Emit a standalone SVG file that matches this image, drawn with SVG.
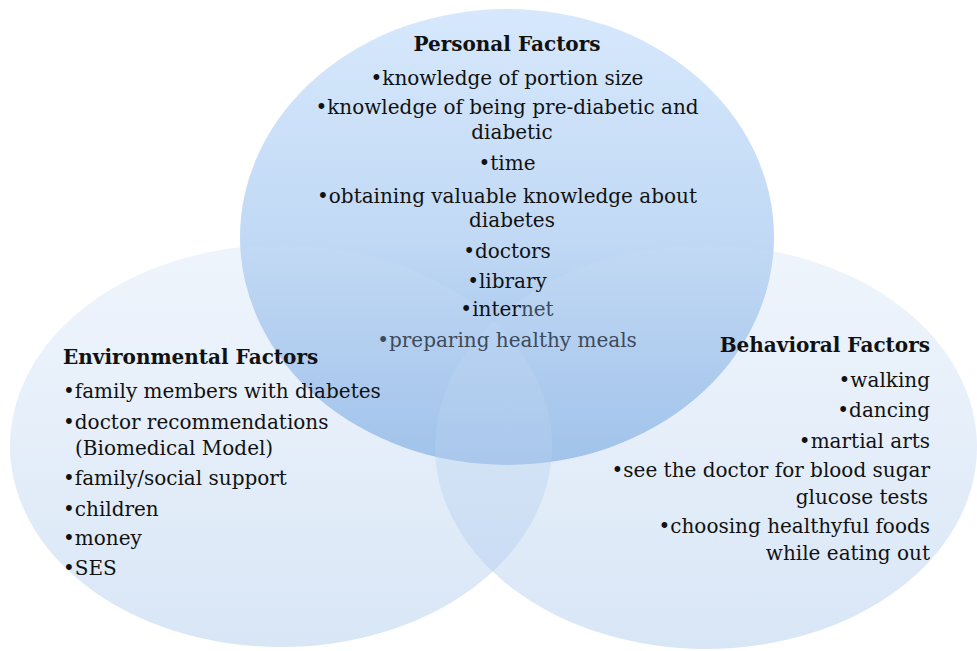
<svg xmlns="http://www.w3.org/2000/svg" width="977" height="651" viewBox="0 0 977 651">
<defs>
<linearGradient id="gTop" x1="0" y1="0" x2="0" y2="1">
<stop offset="0" stop-color="#d3e6fc"/>
<stop offset="0.5" stop-color="#bcd6f4"/>
<stop offset="1" stop-color="#8ab4e4"/>
</linearGradient>
<linearGradient id="gSide" x1="0" y1="0" x2="0" y2="1">
<stop offset="0" stop-color="#c8dcf5" stop-opacity="0.3"/>
<stop offset="1" stop-color="#a9c7ec" stop-opacity="0.45"/>
</linearGradient>
<style>
text{font-family:"DejaVu Serif","Liberation Serif",serif;font-size:20px;fill:#111}
.h{font-weight:bold}
.c{text-anchor:middle}
.r{text-anchor:end}
.g{fill:#3c4a5c}
</style>
</defs>
<g id="personal-shape">
<ellipse cx="507" cy="237" rx="267" ry="228" fill="url(#gTop)" fill-opacity="0.92"/>
</g>
<g id="environmental-shape">
<ellipse cx="281" cy="446" rx="271" ry="201" fill="url(#gSide)"/>
</g>
<g id="behavioral-shape">
<ellipse cx="706" cy="447" rx="271" ry="202" fill="url(#gSide)"/>
</g>
<g id="connectors"></g>
<g id="personal">
<text class="h c" x="507" y="51">Personal Factors</text>
<text class="c" x="507" y="85">•knowledge of portion size</text>
<text class="c" x="507" y="114">•knowledge of being pre-diabetic and</text>
<text class="c" x="512" y="139">diabetic</text>
<text class="c" x="507" y="170">•time</text>
<text class="c" x="507" y="203">•obtaining valuable knowledge about</text>
<text class="c" x="512" y="227">diabetes</text>
<text class="c" x="507" y="258">•doctors</text>
<text class="c" x="507" y="288">•library</text>
<text class="c" x="507" y="316">•inter<tspan class="g">net</tspan></text>
<text class="c g" x="507" y="347">•preparing healthy meals</text>
</g>
<g id="environmental">
<text class="h" x="63" y="364">Environmental Factors</text>
<text x="63" y="398">•family members with diabetes</text>
<text x="63" y="429">•doctor recommendations</text>
<text x="75" y="455">(Biomedical Model)</text>
<text x="63" y="485">•family/social support</text>
<text x="63" y="516">•children</text>
<text x="63" y="545">•money</text>
<text x="63" y="575">•SES</text>
</g>
<g id="behavioral">
<text class="h r" x="930" y="352">Behavioral Factors</text>
<text class="r" x="930" y="387">•walking</text>
<text class="r" x="930" y="417">•dancing</text>
<text class="r" x="930" y="448">•martial arts</text>
<text class="r" x="930" y="477">•see the doctor for blood sugar</text>
<text class="r" x="928" y="504">glucose tests</text>
<text class="r" x="930" y="533">•choosing healthyful foods</text>
<text class="r" x="930" y="560">while eating out</text>
</g>
</svg>
